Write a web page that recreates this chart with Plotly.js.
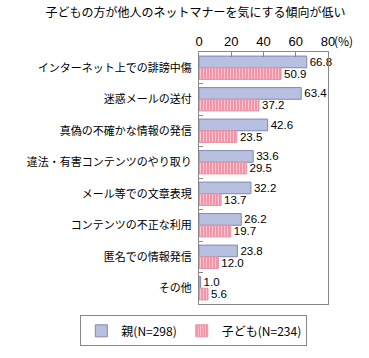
<!DOCTYPE html>
<html>
<head>
<meta charset="utf-8">
<script src="https://cdn.plot.ly/plotly-3.0.1.min.js"></script>
<style>html,body{margin:0;padding:0;background:#fff;}</style>
</head>
<body>
<div id="chart" style="width:369px;height:358px;"></div>
<script>
const categories = ["インターネット上での誹謗中傷","迷惑メールの送付","真偽の不確かな情報の発信","違法・有害コンテンツのやり取り","メール等での文章表現","コンテンツの不正な利用","匿名での情報発信","その他"];
const parentValues = [66.8, 63.4, 42.6, 33.6, 32.2, 26.2, 23.8, 1.0];
const childValues = [50.9, 37.2, 23.5, 29.5, 13.7, 19.7, 12.0, 5.6];
const seriesNames = ["親(N=298)", "子ども(N=234)"];
const tickValues = [0, 20, 40, 60, 80];
const tickLabels = ["0", "20", "40", "60", "80"];

const font = "'Noto Sans CJK JP', sans-serif";
const numFont = "'Liberation Sans', Arial, sans-serif";

const traces = [
  {
    type: "bar", orientation: "h", name: seriesNames[0],
    y: categories, x: parentValues,
    text: parentValues.map(v => v.toFixed(1)), textposition: "outside",
    constraintext: "none",
    textfont: {size: 11.5, color: "#000", family: numFont},
    cliponaxis: false,
    marker: {color: "#b8c0e2", line: {color: "#8088b0", width: 1}},
    hoverinfo: "none"
  },
  {
    type: "bar", orientation: "h", name: seriesNames[1],
    y: categories, x: childValues,
    text: childValues.map(v => v.toFixed(1)), textposition: "outside",
    constraintext: "none",
    textfont: {size: 11.5, color: "#000", family: numFont},
    cliponaxis: false,
    marker: {color: "#f49cae", line: {color: "#e890a2", width: 1},
      pattern: {shape: "|", fgcolor: "#fcd6de", bgcolor: "#f295a9", size: 3, solidity: 0.25}},
    hoverinfo: "none"
  }
];

const layout = {
  width: 369, height: 358,
  margin: {l: 199, r: 41, t: 52, b: 46},
  paper_bgcolor: "#fff", plot_bgcolor: "#fff",
  font: {family: font, size: 11, color: "#000"},
  title: {text: "子どもの方が他人のネットマナーを気にする傾向が低い", x: 0.53, xanchor: "center", y: 0.965, yanchor: "middle", font: {size: 12, family: font, color: "#000"}},
  barmode: "group", bargap: 0.26, bargroupgap: 0,
  showlegend: true,
  legend: {orientation: "h", x: -0.92, xanchor: "left", y: -0.045, yanchor: "top",
    bordercolor: "#888", borderwidth: 1, font: {size: 12, family: font},
    itemwidth: 30, traceorder: "normal", bgcolor: "#fff"},
  xaxis: {
    side: "top", range: [0, 80], tickvals: tickValues, ticktext: tickLabels,
    ticks: "inside", ticklen: 5, tickcolor: "#888",
    showgrid: false, zeroline: false,
    showline: true, linecolor: "#888", linewidth: 1, mirror: true,
    tickfont: {size: 13, family: numFont}, fixedrange: true
  },
  yaxis: {
    autorange: "reversed", type: "category",
    ticks: "inside", tickson: "boundaries", ticklen: 4, tickcolor: "#888",
    showgrid: false, zeroline: false,
    showline: true, linecolor: "#888", linewidth: 1, mirror: true,
    tickfont: {size: 11, family: font}, ticklabelstandoff: 4, fixedrange: true
  },
  annotations: [
    {xref: "paper", yref: "paper", x: 1.04, y: 1, yshift: 1, xanchor: "left", yanchor: "bottom",
     xshift: -1, text: "(%)", showarrow: false, font: {size: 12, family: font}}
  ]
};

Plotly.newPlot("chart", traces, layout, {displayModeBar: false, staticPlot: true});
</script>
</body>
</html>
